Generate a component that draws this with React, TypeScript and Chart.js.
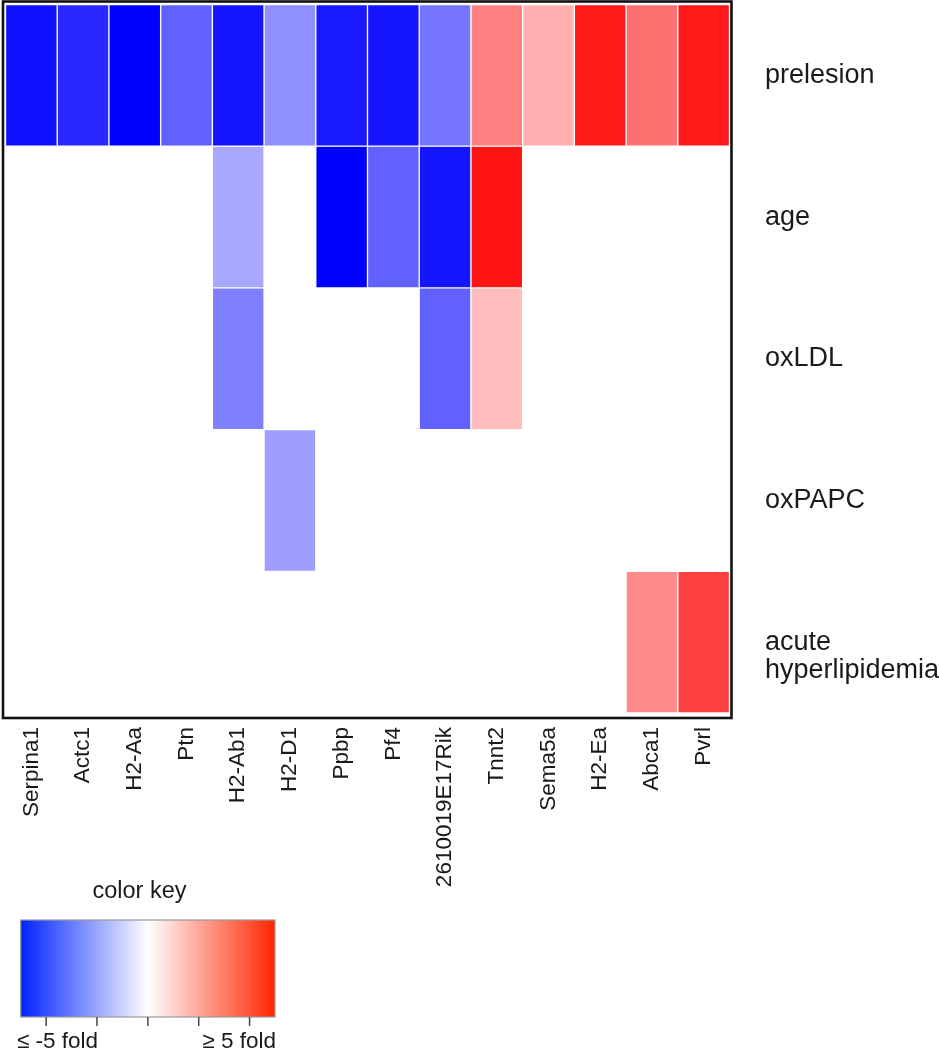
import React, { useEffect, useRef } from "react";
import { Chart, registerables } from "chart.js";

Chart.register(...registerables);

const genes = [
  "Serpina1", "Actc1", "H2-Aa", "Ptn", "H2-Ab1", "H2-D1", "Ppbp",
  "Pf4", "2610019E17Rik", "Tnnt2", "Sema5a", "H2-Ea", "Abca1", "Pvrl",
];
const conditionLabels = [
  ["prelesion"],
  ["age"],
  ["oxLDL"],
  ["oxPAPC"],
  ["", "acute", "hyperlipidemia"],
];

// fold-change values (clipped at ±5); null = not significant
const prelesion = [-4.7, -4.2, -5.0, -3.1, -4.6, -2.2, -4.5, -4.6, -2.7, 2.5, 1.55, 4.5, 2.8, 4.5];
const age = [null, null, null, null, -1.7, null, -5.0, -3.1, -4.6, 4.6, null, null, null, null];
const oxLDL = [null, null, null, null, -2.5, null, null, null, -3.1, 1.3, null, null, null, null];
const oxPAPC = [null, null, null, null, null, -1.9, null, null, null, null, null, null, null, null];
const acuteHyperlipidemia = [null, null, null, null, null, null, null, null, null, null, null, null, 2.3, 3.75];

const keyTicks = [-4, -2, 0, 2, 4];
const keyLabels = ["≤ -5 fold", "≥ 5 fold"];
const keyTitle = "color key";
const foldLimit = 5;

const FONT = "'Liberation Sans', Arial, Helvetica, sans-serif";
const TEXT = "#1a1a1a";

function foldColor(v: number): string {
  const t = Math.min(Math.abs(v) / foldLimit, 1);
  const c = Math.round(255 * (1 - t));
  return v < 0 ? `rgb(${c},${c},255)` : `rgb(255,${c},${c})`;
}

const framePlugin = {
  id: "frameAndKey",
  afterDraw(chart: any) {
    const ctx = chart.ctx as CanvasRenderingContext2D;
    const a = chart.chartArea;
    ctx.save();
    // frame
    ctx.strokeStyle = "#111";
    ctx.lineWidth = 2.6;
    ctx.strokeRect(a.left - 2.5, a.top - 3, a.right - a.left + 4.5, a.bottom - a.top + 8);

    // colour key
    const kx0 = 20.7, kx1 = 275, ky0 = 920, ky1 = 1017;
    const grad = ctx.createLinearGradient(kx0, 0, kx1, 0);
    grad.addColorStop(0, "rgb(0,35,255)");
    grad.addColorStop(0.5, "rgb(255,255,255)");
    grad.addColorStop(1, "rgb(255,38,0)");
    ctx.fillStyle = grad;
    ctx.fillRect(kx0, ky0, kx1 - kx0, ky1 - ky0);
    ctx.strokeStyle = "#9a9a9a";
    ctx.lineWidth = 1.2;
    ctx.strokeRect(kx0, ky0, kx1 - kx0, ky1 - ky0);
    ctx.strokeStyle = "#444";
    ctx.lineWidth = 1.5;
    keyTicks.forEach((t) => {
      const x = kx0 + ((t + foldLimit) / (2 * foldLimit)) * (kx1 - kx0);
      ctx.beginPath();
      ctx.moveTo(x, ky1);
      ctx.lineTo(x, ky1 + 9);
      ctx.stroke();
    });
    ctx.fillStyle = TEXT;
    ctx.textBaseline = "middle";
    ctx.font = `23.5px ${FONT}`;
    ctx.textAlign = "center";
    ctx.fillText(keyTitle, 139.5, 892);
    ctx.font = `22.5px ${FONT}`;
    ctx.textAlign = "left";
    ctx.fillText(keyLabels[0], 17, 1042);
    ctx.textAlign = "right";
    ctx.fillText(keyLabels[1], 276, 1042);
    ctx.restore();
  },
};

export default function App() {
  const ref = useRef<HTMLCanvasElement | null>(null);
  useEffect(() => {
    if (!ref.current) return;
    const rows = [prelesion, age, oxLDL, oxPAPC, acuteHyperlipidemia];
    const datasets = rows.map((vals, r) => ({
      label: conditionLabels[r].join(" ").trim(),
      data: vals.map((v) => (v == null ? null : [r, r + 1])),
      backgroundColor: vals.map((v) => (v == null ? "rgba(0,0,0,0)" : foldColor(v))),
      borderColor: "rgba(255,255,255,0.9)",
      borderWidth: 1,
      borderSkipped: false,
      grouped: false,
      barPercentage: 1,
      categoryPercentage: 1,
    }));
    const chart = new Chart(ref.current, {
      type: "bar",
      data: { labels: genes, datasets: datasets as any },
      plugins: [framePlugin],
      options: {
        responsive: false,
        animation: false,
        events: [],
        layout: { padding: { left: 5.5, top: 4.5, right: 0, bottom: 0 } },
        plugins: { legend: { display: false }, tooltip: { enabled: false } },
        scales: {
          x: {
            type: "category",
            offset: true,
            grid: { display: false },
            border: { display: false },
            ticks: {
              autoSkip: false,
              minRotation: 90,
              maxRotation: 90,
              padding: 6,
              color: TEXT,
              font: { family: FONT, size: 22.5 },
            },
            afterFit: (s: any) => {
              s.height = 337;
              s.paddingLeft = 0;
              s.paddingRight = 0;
              s.paddingTop = 0;
              s.paddingBottom = 0;
            },
          },
          y: {
            type: "linear",
            position: "right",
            min: 0,
            max: conditionLabels.length,
            reverse: true,
            grid: { display: false, drawTicks: false },
            border: { display: false },
            afterBuildTicks: (s: any) => {
              s.ticks = conditionLabels.map((_, i) => ({ value: i + 0.5 }));
            },
            ticks: {
              padding: 35.5,
              color: TEXT,
              font: { family: FONT, size: 27, lineHeight: 1.04 },
              callback: (v: any) => conditionLabels[Math.floor(Number(v))],
            },
            afterFit: (s: any) => {
              s.width = 209.5;
              s.paddingTop = 0;
              s.paddingBottom = 0;
              s.paddingLeft = 0;
              s.paddingRight = 0;
            },
          },
        },
      },
    } as any);
    return () => chart.destroy();
  }, []);
  return (
    <canvas
      ref={ref}
      width={939}
      height={1050}
      style={{ position: "absolute", left: 0, top: 0, width: 939, height: 1050, background: "#fff" }}
    />
  );
}
